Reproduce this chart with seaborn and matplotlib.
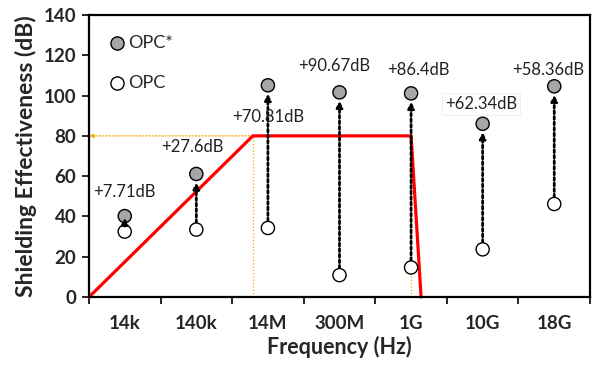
import numpy as np
import pandas as pd
import seaborn as sns
import matplotlib.pyplot as plt

# Data
freqs = ['14k', '140k', '14M', '300M', '1G', '10G', '18G']
se_opc = [32.5, 33.5, 34.3, 10.9, 14.7, 23.7, 46.2]
se_opc_star = [40.2, 61.1, 105.1, 101.6, 101.1, 86.0, 104.6]
gains = ['+7.71dB', '+27.6dB', '+70.81dB', '+90.67dB', '+86.4dB', '+62.34dB', '+58.36dB']
label_y = [52, 74.5, 89.5, 114.5, 112.5, 95.8, 112.5]
label_dx = [0.0, -0.05, 0.0, -0.07, 0.1, -0.02, -0.08]

# requirement curve (in category units)
limit_x = [-0.5, 1.79, 4.0, 4.14]
limit_y = [0, 80, 80, 0]

sns.set_theme(style='white')
plt.rcParams['font.family'] = ['Lato', 'DejaVu Sans']

df = pd.DataFrame({'freq': freqs * 2,
                   'se': se_opc_star + se_opc,
                   'sample': ['OPC*'] * 7 + ['OPC'] * 7})

fig = plt.figure(figsize=(5.93, 3.65), dpi=100)
ax = fig.add_axes([0.150, 0.186, 0.845, 0.773])

# orange guide lines
ax.plot([limit_x[1], limit_x[1]], [0, 80], color='#f5a800', lw=0.9, ls=':', zorder=1)
ax.plot([limit_x[2], limit_x[2]], [0, 80], color='#f5a800', lw=0.9, ls=':', zorder=1)
ax.annotate('', xy=(-0.5, 80), xytext=(limit_x[1], 80),
            arrowprops=dict(arrowstyle='-|>', color='#f5a800', lw=0.9, ls=':',
                            mutation_scale=7, shrinkA=0, shrinkB=0), zorder=1)

ax.plot(limit_x, limit_y, color='#ff0000', lw=2.3, zorder=2, clip_on=False)

# dotted arrows from OPC to OPC*
for i in range(len(freqs)):
    if i == 0:
        sa, sb, z = 4, 1, 6
    else:
        sa, sb, z = 5, 6, 3
    ax.annotate('', xy=(i, se_opc_star[i]), xytext=(i, se_opc[i]),
                arrowprops=dict(arrowstyle='-|>', color='black', lw=2.0, ls=(0, (1, 1)),
                                mutation_scale=9, shrinkA=sa, shrinkB=sb), zorder=z)
    ax.text(i + label_dx[i], label_y[i], gains[i], ha='center', va='center',
            fontsize=12, color='#222222', zorder=4,
            bbox=dict(facecolor='white', edgecolor='#eeeeee', lw=0.6, pad=2) if i == 5 else None)

sns.scatterplot(data=df, x='freq', y='se', hue='sample', style='sample',
                palette={'OPC*': '#a6a6a6', 'OPC': 'white'}, markers={'OPC*': 'o', 'OPC': 'o'},
                s=90, edgecolor='black', linewidth=1.0, ax=ax, zorder=5, legend=False)

# legend drawn like the reference (markers + labels inside the plot)
ax.scatter([-0.11], [126], s=90, c='#a6a6a6', edgecolors='black', linewidths=1.0, zorder=5)
ax.scatter([-0.11], [106], s=90, c='white', edgecolors='black', linewidths=1.0, zorder=5)
ax.text(0.05, 126, 'OPC*', va='center', ha='left', fontsize=13)
ax.text(0.05, 106, 'OPC', va='center', ha='left', fontsize=13)

ax.set_xlim(-0.5, 6.5)
ax.set_ylim(0, 140)
ax.set_yticks(np.arange(0, 141, 20))
ax.set_xticks(np.arange(-0.5, 7, 1))
ax.set_xticklabels([])
ax.set_xticks(np.arange(7), minor=True)
ax.set_xticklabels(freqs, minor=True)
ax.tick_params(axis='x', which='major', direction='out', length=5, width=1.2, bottom=True, color='black')
ax.tick_params(axis='x', which='minor', length=0, pad=13, labelsize=13.5)
ax.tick_params(axis='y', direction='out', length=5, width=1.2, left=True, pad=4, labelsize=13.5, color='black')
for lbl in ax.get_xticklabels(minor=True) + ax.get_yticklabels():
    lbl.set_fontweight('bold')

for sp in ax.spines.values():
    sp.set_color('black')
    sp.set_linewidth(1.6)

ax.set_xlabel('Frequency (Hz)', fontsize=15.5, fontweight='bold', labelpad=3)
ax.set_ylabel('Shielding Effectiveness (dB)', fontsize=16.5, fontweight='bold', labelpad=5)

fig.savefig('out.png', dpi=100)
